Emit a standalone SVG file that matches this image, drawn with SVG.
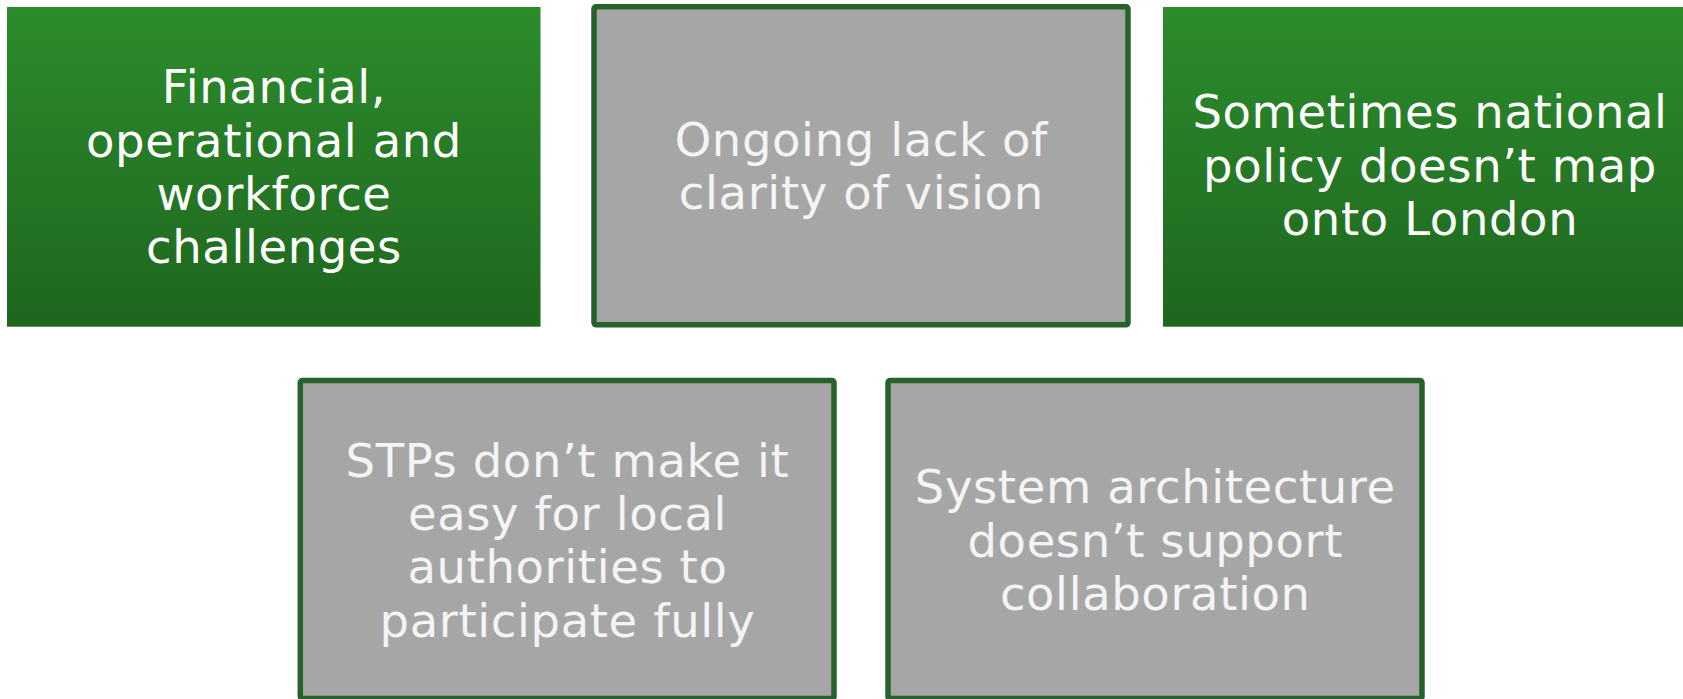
<svg xmlns="http://www.w3.org/2000/svg" width="1683" height="699" viewBox="0 0 1683 699">
<defs>
<linearGradient id="g" x1="0" y1="0" x2="0" y2="1">
<stop offset="0" stop-color="#2c8c2c"/>
<stop offset="1" stop-color="#1f661f"/>
</linearGradient>
<style>
.green{fill:url(#g);}
.grey{fill:#a6a6a6;stroke:#27622a;stroke-width:5.5;}
text{font-family:"DejaVu Sans","Verdana",sans-serif;font-size:46.5px;letter-spacing:0.6px;text-anchor:middle;}
.w{fill:#ffffff;}
.lw{fill:#f4f4f4;}
</style>
</defs>
<rect width="1683" height="699" fill="#ffffff"/>
<g id="connectors"></g>
<g id="node1">
<rect class="green" x="7" y="7" width="533.5" height="319.7"/>
<text class="w"><tspan x="274" y="103.3">Financial,</tspan><tspan x="274" y="156.6">operational and</tspan><tspan x="274" y="209.9">workforce</tspan><tspan x="274" y="263.2">challenges</tspan></text>
</g>
<g id="node2">
<rect class="grey" x="594" y="6.8" width="534" height="318" rx="2"/>
<text class="lw"><tspan x="861.3" y="156">Ongoing lack of</tspan><tspan x="861.3" y="209.3">clarity of vision</tspan></text>
</g>
<g id="node3">
<rect class="green" x="1163" y="7" width="533.5" height="319.7"/>
<text class="w"><tspan x="1430" y="128.3">Sometimes national</tspan><tspan x="1430" y="181.6">policy doesn’t map</tspan><tspan x="1430" y="234.9">onto London</tspan></text>
</g>
<g id="node4">
<rect class="grey" x="300.3" y="380.5" width="533.7" height="318" rx="2"/>
<text class="lw"><tspan x="567.5" y="476.7">STPs don’t make it</tspan><tspan x="567.5" y="530">easy for local</tspan><tspan x="567.5" y="583.3">authorities to</tspan><tspan x="567.5" y="636.6">participate fully</tspan></text>
</g>
<g id="node5">
<rect class="grey" x="888" y="380.5" width="534" height="318" rx="2"/>
<text class="lw"><tspan x="1155.3" y="503.2">System architecture</tspan><tspan x="1155.3" y="556.5">doesn’t support</tspan><tspan x="1155.3" y="609.8">collaboration</tspan></text>
</g>
</svg>
